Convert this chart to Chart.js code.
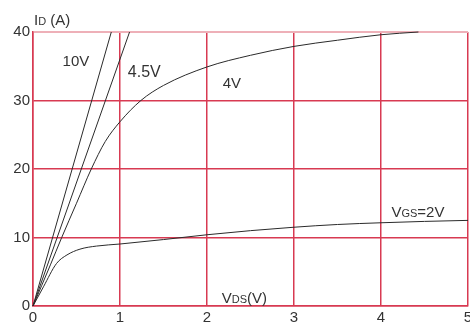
<!DOCTYPE html>
<html>
<head>
<meta charset="utf-8">
<script src="https://cdn.jsdelivr.net/npm/chart.js@4"></script>
<style>
html,body{margin:0;padding:0;background:#fff;}
#wrap{width:470px;height:325px;position:relative;}
</style>
</head>
<body>
<div id="wrap"><canvas id="c" width="470" height="325"></canvas></div>
<script>
// Data (VDS in V, ID in A)
const xTicks = [0, 1, 2, 3, 4, 5];
const yTicks = [0, 10, 20, 30, 40];
const vgs10X = [0, 0.9];
const vgs10Y = [0, 40];
const vgs45X = [0, 1.11];
const vgs45Y = [0, 40];
const vgs4X = [0, 0.2, 0.33, 0.5, 0.67, 0.83, 1, 1.24, 1.5, 2, 2.5, 3, 3.5, 4, 4.43];
const vgs4Y = [0, 6, 10, 15, 20, 24, 26.9, 30, 32.2, 34.9, 36.6, 37.9, 38.8, 39.6, 40];
const vgs2X = [0, 0.12, 0.27, 0.39, 0.54, 0.73, 1, 1.5, 2, 2.5, 3, 3.5, 4, 4.5, 5];
const vgs2Y = [0, 2.8, 6.2, 7.45, 8.3, 8.75, 9.05, 9.7, 10.4, 11, 11.5, 11.9, 12.15, 12.35, 12.5];

const pts = (xs, ys) => xs.map((x, i) => ({x: x, y: ys[i]}));
const lineStyle = {showLine: true, borderColor: '#2a2a2a', borderWidth: 1, pointRadius: 0, fill: false};

const labelPlugin = {
  id: 'labels',
  afterDraw(chart) {
    const ctx = chart.ctx;
    const xs = chart.scales.x, ys = chart.scales.y;
    ctx.save();
    ctx.fillStyle = '#333';
    ctx.textBaseline = 'alphabetic';
    ctx.textAlign = 'left';
    function sub(parts, px, py) {
      let x = px;
      parts.forEach(p => {
        ctx.font = p[1] + 'px "Liberation Sans", Arial, sans-serif';
        ctx.fillText(p[0], x, py);
        x += ctx.measureText(p[0]).width;
      });
    }
    // curve labels positioned in data coordinates
    sub([['10V', 15]], xs.getPixelForValue(0.34), ys.getPixelForValue(35));
    sub([['4.5V', 16]], xs.getPixelForValue(1.09), ys.getPixelForValue(33.5));
    sub([['4V', 15]], xs.getPixelForValue(2.18), ys.getPixelForValue(31.8));
    sub([['V', 15], ['GS', 11], ['=2V', 15]], xs.getPixelForValue(4.12), ys.getPixelForValue(13));
    sub([['V', 15], ['DS', 11], ['(V)', 15]], xs.getPixelForValue(2.17), ys.getPixelForValue(0.5));
    sub([['I', 15], ['D', 11], [' (A)', 15]], chart.chartArea.left + 1, chart.chartArea.top - 7);
    ctx.restore();
  }
};

new Chart(document.getElementById('c'), {
  type: 'scatter',
  data: {
    datasets: [
      Object.assign({data: pts(vgs10X, vgs10Y)}, lineStyle),
      Object.assign({data: pts(vgs45X, vgs45Y)}, lineStyle),
      Object.assign({data: pts(vgs4X, vgs4Y), cubicInterpolationMode: 'monotone'}, lineStyle),
      Object.assign({data: pts(vgs2X, vgs2Y), cubicInterpolationMode: 'monotone'}, lineStyle)
    ]
  },
  options: {
    responsive: false,
    animation: false,
    devicePixelRatio: 1,
    clip: false,
    layout: {padding: {top: 32, right: 2, left: 0, bottom: 0}},
    plugins: {legend: {display: false}, tooltip: {enabled: false}},
    scales: {
      x: {
        type: 'linear', min: 0, max: 5,
        afterBuildTicks: s => { s.ticks = xTicks.map(v => ({value: v})); },
        afterFit: s => { s.height = 19; s.paddingLeft = 0; s.paddingRight = 0; },
        grid: {color: '#d83a52', lineWidth: 1.5, drawTicks: false},
        border: {color: '#d83a52', width: 1.5},
        ticks: {padding: 3, color: '#333', font: {size: 15, family: '"Liberation Sans", Arial, sans-serif'}, maxRotation: 0}
      },
      y: {
        type: 'linear', min: 0, max: 40,
        afterBuildTicks: s => { s.ticks = yTicks.map(v => ({value: v})); },
        afterFit: s => { s.width = 33; s.paddingTop = 0; s.paddingBottom = 0; },
        grid: {
          color: c => c.tick && c.tick.value === 40 ? '#eeb0b8' : '#d83a52',
          lineWidth: c => c.tick && c.tick.value === 40 ? 2 : 1.5,
          drawTicks: false
        },
        border: {color: '#d83a52', width: 1.5},
        ticks: {padding: 3, color: '#333', font: {size: 15, family: '"Liberation Sans", Arial, sans-serif'}}
      }
    }
  },
  plugins: [labelPlugin]
});
</script>
</body>
</html>
